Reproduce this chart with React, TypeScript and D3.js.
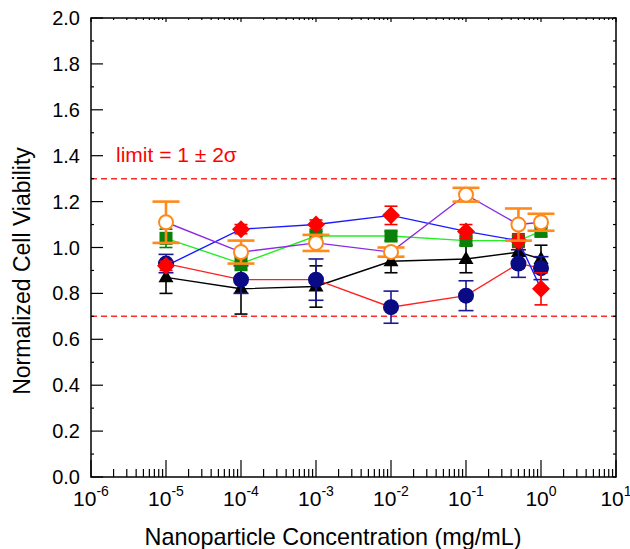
import React, { useEffect, useRef } from "react";
import * as d3 from "d3";

// concentrations (mg/mL)
const concentrations = [1e-5, 1e-4, 1e-3, 1e-2, 1e-1, 0.5, 1];

const triangleMean = [0.87, 0.82, 0.83, 0.94, 0.95, 0.98, 0.95];
const triangleErr = [0.07, 0.11, 0.09, 0.05, 0.06, 0.07, 0.06];
const navyMean = [0.93, 0.86, 0.86, 0.74, 0.79, 0.93, 0.91];
const navyErr = [0.04, 0.06, 0.09, 0.07, 0.065, 0.06, 0.05];
const squareMean = [1.04, 0.93, 1.05, 1.05, 1.03, 1.03, 1.07];
const squareErr = [0.04, 0.03, 0.02, 0.02, 0.02, 0.02, 0.02];
const diamondMean = [0.92, 1.08, 1.1, 1.14, 1.07, 1.03, 0.82];
const diamondErr = [0.02, 0.02, 0.02, 0.04, 0.03, 0.03, 0.07];
const openMean = [1.11, 0.98, 1.02, 0.98, 1.23, 1.1, 1.11];
const openErr = [0.09, 0.05, 0.035, 0.02, 0.03, 0.07, 0.037];

const limits = [1.3, 0.7];
const xDecades = [-6, -5, -4, -3, -2, -1, 0, 1];
const yTicks = [0, 0.2, 0.4, 0.6, 0.8, 1.0, 1.2, 1.4, 1.6, 1.8, 2.0];

const FONT = "'Liberation Sans', Arial, Helvetica, sans-serif";

export default function App() {
  const ref = useRef<SVGSVGElement>(null);

  useEffect(() => {
    const svg = d3.select(ref.current);
    svg.selectAll("*").remove();

    const left = 91, right = 616, top = 18, bottom = 477;
    const x = d3.scaleLog().domain([1e-6, 10]).range([left, right]);
    const y = d3.scaleLinear().domain([0, 2]).range([bottom, top]);

    // limit lines
    svg.selectAll("line.limit")
      .data(limits)
      .enter()
      .append("line")
      .attr("x1", left)
      .attr("x2", right)
      .attr("y1", (d) => y(d))
      .attr("y2", (d) => y(d))
      .attr("stroke", "#ff2a2a")
      .attr("stroke-width", 1.5)
      .attr("stroke-dasharray", "6,4");

    svg.append("text")
      .attr("x", 116)
      .attr("y", 162)
      .attr("fill", "#ff0000")
      .style("font-family", FONT)
      .style("font-size", "21px")
      .text("limit = 1 \u00b1 2\u03c3");

    // frame
    svg.append("rect")
      .attr("x", left)
      .attr("y", top)
      .attr("width", right - left)
      .attr("height", bottom - top)
      .attr("fill", "none")
      .attr("stroke", "#000")
      .attr("stroke-width", 1.5);

    // x ticks (log)
    const xt = x.ticks();
    xt.forEach((t) => {
      const major = Math.abs(Math.log10(t) - Math.round(Math.log10(t))) < 1e-9;
      const len = major ? 17 : 8;
      svg.append("line")
        .attr("x1", x(t)).attr("x2", x(t))
        .attr("y1", bottom).attr("y2", bottom - len)
        .attr("stroke", "#000").attr("stroke-width", 1.2);
      svg.append("line")
        .attr("x1", x(t)).attr("x2", x(t))
        .attr("y1", top).attr("y2", top + (major ? 4 : 2))
        .attr("stroke", "#000").attr("stroke-width", 1.2);
    });

    xDecades.forEach((p) => {
      const t = svg.append("text")
        .attr("x", x(Math.pow(10, p)))
        .attr("y", 506)
        .attr("text-anchor", "middle")
        .style("font-family", FONT)
        .style("font-size", "21px");
      t.append("tspan").text("10");
      t.append("tspan")
        .attr("dy", -10)
        .style("font-size", "14px")
        .text(String(p));
    });

    // y ticks
    d3.range(0, 21).forEach((i) => {
      const v = i / 10;
      const major = i % 2 === 0;
      svg.append("line")
        .attr("x1", left).attr("x2", left + (major ? 12 : 3))
        .attr("y1", y(v)).attr("y2", y(v))
        .attr("stroke", "#000").attr("stroke-width", 1.2);
      svg.append("line")
        .attr("x1", right).attr("x2", right - 3)
        .attr("y1", y(v)).attr("y2", y(v))
        .attr("stroke", "#000").attr("stroke-width", 1.2);
    });

    svg.selectAll("text.ylab")
      .data(yTicks)
      .enter()
      .append("text")
      .attr("x", 80)
      .attr("y", (d) => y(d) + 7)
      .attr("text-anchor", "end")
      .style("font-family", FONT)
      .style("font-size", "20px")
      .text((d) => d.toFixed(1));

    // titles
    svg.append("text")
      .attr("x", 333)
      .attr("y", 545)
      .attr("text-anchor", "middle")
      .style("font-family", FONT)
      .style("font-size", "23.4px")
      .text("Nanoparticle Concentration (mg/mL)");

    svg.append("text")
      .attr("transform", "translate(30,271) rotate(-90)")
      .attr("text-anchor", "middle")
      .style("font-family", FONT)
      .style("font-size", "23px")
      .text("Normalized Cell Viability");

    const series = [
      { mean: triangleMean, err: triangleErr, line: "#000000", color: "#000000", cap: 13, shape: "triangle" },
      { mean: navyMean, err: navyErr, line: "#ff2020", color: "#0a0a84", cap: 15, shape: "circle" },
      { mean: squareMean, err: squareErr, line: "#22ee22", color: "#0a800a", cap: 13, shape: "square" },
      { mean: diamondMean, err: diamondErr, line: "#1a1aff", color: "#ff0000", cap: 13, shape: "diamond" },
      { mean: openMean, err: openErr, line: "#8a2be2", color: "#ff8a1a", cap: 27, shape: "open" },
    ];

    const lineGen = d3.line<number>()
      .x((d, i) => x(concentrations[i]))
      .y((d) => y(d));

    series.forEach((s) => {
      svg.append("path")
        .attr("d", lineGen(s.mean))
        .attr("fill", "none")
        .attr("stroke", s.line)
        .attr("stroke-width", 1.4);
    });

    const clip = (v: number) => Math.max(top, Math.min(bottom, v));

    series.forEach((s) => {
      const g = svg.append("g");
      const sw = s.shape === "open" ? 2.6 : 1.6;
      const ecol = s.shape === "open" ? "#ff8a1a" : s.shape === "circle" ? "#1a1a90" : s.color;
      s.mean.forEach((m, i) => {
        const cx = x(concentrations[i]);
        const y0 = y(m - s.err[i]);
        const y1 = y(m + s.err[i]);
        g.append("line").attr("x1", cx).attr("x2", cx).attr("y1", y0).attr("y2", y1)
          .attr("stroke", ecol).attr("stroke-width", sw);
        [y0, y1].forEach((yy) => {
          g.append("line")
            .attr("x1", cx - s.cap / 2).attr("x2", cx + s.cap / 2)
            .attr("y1", clip(yy)).attr("y2", clip(yy))
            .attr("stroke", ecol).attr("stroke-width", sw);
        });
      });

      s.mean.forEach((m, i) => {
        const cx = x(concentrations[i]);
        const cy = y(m);
        if (s.shape === "circle") {
          g.append("circle").attr("cx", cx).attr("cy", cy).attr("r", 8).attr("fill", s.color);
        } else if (s.shape === "open") {
          g.append("circle").attr("cx", cx).attr("cy", cy).attr("r", 7)
            .attr("fill", "#fff").attr("stroke", s.color).attr("stroke-width", 2);
        } else if (s.shape === "square") {
          g.append("rect").attr("x", cx - 6.5).attr("y", cy - 6.5)
            .attr("width", 13).attr("height", 13).attr("fill", s.color);
        } else if (s.shape === "diamond") {
          g.append("path")
            .attr("d", `M${cx},${cy - 9}L${cx + 9},${cy}L${cx},${cy + 9}L${cx - 9},${cy}Z`)
            .attr("fill", s.color);
        } else {
          g.append("path")
            .attr("d", `M${cx},${cy - 8}L${cx + 7.5},${cy + 5}L${cx - 7.5},${cy + 5}Z`)
            .attr("fill", s.color);
        }
      });
    });
  }, []);

  return (
    <svg
      ref={ref}
      width={630}
      height={549}
      style={{ position: "absolute", left: 0, top: 0, background: "#fff" }}
    />
  );
}
